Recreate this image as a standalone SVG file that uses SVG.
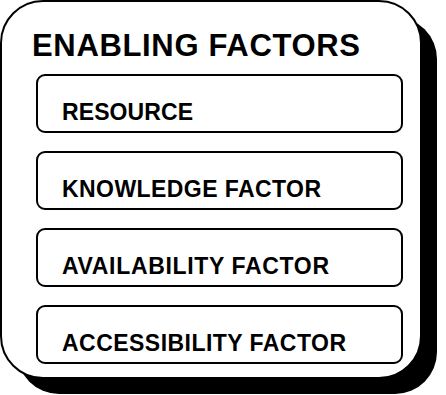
<svg xmlns="http://www.w3.org/2000/svg" width="446" height="395" viewBox="0 0 446 395">
<style>
.box{fill:#fff;stroke:#000;stroke-width:2}
.lbl{font-family:"Liberation Sans",Arial,sans-serif;font-weight:bold;font-size:23px;fill:#000}
.ttl{font-family:"Liberation Sans",Arial,sans-serif;font-weight:bold;font-size:31px;fill:#000}
</style>
<rect width="446" height="395" fill="#fff"/>
<g id="container">
<rect x="17" y="17" width="420" height="377" rx="42" fill="#000"/>
<rect x="1" y="1" width="420" height="377" rx="42" fill="#fff" stroke="#000" stroke-width="2"/>
<text class="ttl" x="32" y="56" textLength="328" lengthAdjust="spacing">ENABLING FACTORS</text>
</g>
<g id="resource">
<rect class="box" x="37" y="75" width="365" height="57" rx="8"/>
<text class="lbl" x="62" y="120" textLength="131" lengthAdjust="spacing">RESOURCE</text>
</g>
<g id="knowledge">
<rect class="box" x="37" y="152" width="365" height="57" rx="8"/>
<text class="lbl" x="62" y="197" textLength="259" lengthAdjust="spacing">KNOWLEDGE FACTOR</text>
</g>
<g id="availability">
<rect class="box" x="37" y="229" width="365" height="57" rx="8"/>
<text class="lbl" x="62" y="274" textLength="267" lengthAdjust="spacing">AVAILABILITY FACTOR</text>
</g>
<g id="accessibility">
<rect class="box" x="37" y="306" width="365" height="57" rx="8"/>
<text class="lbl" x="62" y="351" textLength="284" lengthAdjust="spacing">ACCESSIBILITY FACTOR</text>
</g>
<g id="connectors"/>
</svg>
